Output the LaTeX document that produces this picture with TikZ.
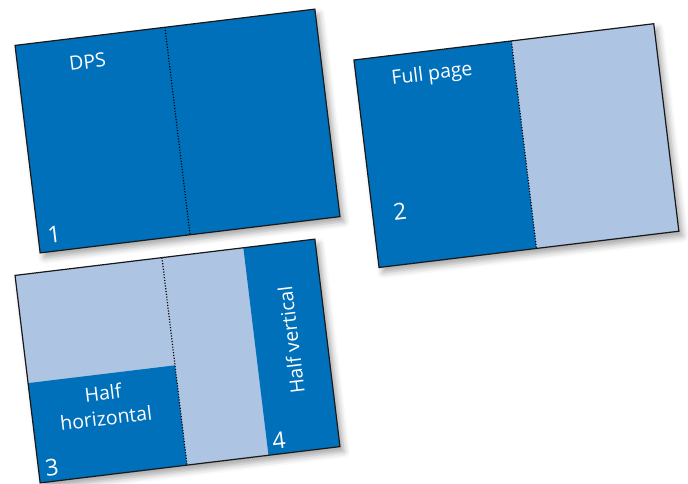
\documentclass[tikz,border=0pt]{standalone}
\usepackage{fontspec}
\setmainfont{Open Sans}
\usetikzlibrary{shadows.blur}
\definecolor{dkblue}{RGB}{0,112,186}
\definecolor{ltblue}{RGB}{174,196,227}
\tikzset{
 pageshadow/.style={blur shadow={shadow xshift=4pt, shadow yshift=-5pt, shadow blur radius=6pt, shadow opacity=35}},
 border/.style={draw=black!90, line width=1.2pt},
 fold/.style={draw=black, line width=1.2pt, dash pattern=on 1.1pt off 1.7pt},
 lbl/.style={text=white, font=\fontsize{19.5}{25}\selectfont, align=center, inner sep=0pt},
 num/.style={text=white, font=\fontsize{23}{25}\selectfont, inner sep=0pt},
}
\begin{document}
\begin{tikzpicture}[x=1pt,y=1pt]
\useasboundingbox (0,0) rectangle (688,-483);
% page 1: DPS
\begin{scope}[shift={(177.5,-131)}, rotate=6.9, transform shape]
 \path[pageshadow, fill=dkblue] (-151,-104.5) rectangle (151,104.5);
 \coordinate (f1t) at (0,104.5);
 \coordinate (f1b) at (0,-104.5);
 \draw[fold] (f1t) -- (f1b);
 \draw[border] (-151,-104.5) rectangle (151,104.5);
 \node[lbl] (dps) at (-81,79.5) {DPS};
 \node[num] (n1) at (-135,-88) {1};
\end{scope}
% page 2: Full page
\begin{scope}[shift={(516.4,-145.6)}, rotate=6.9, transform shape]
 \path[pageshadow, fill=ltblue] (-151,-104.5) rectangle (151,104.5);
 \fill[dkblue] (-151,-104.5) rectangle (7.6,104.5);
 \coordinate (f2t) at (7.6,104.5);
 \coordinate (f2b) at (7.6,-104.5);
 \draw[fold] (f2t) -- (f2b);
 \draw[border] (-151,-104.5) rectangle (151,104.5);
 \node[lbl] (full) at (-75.2,80.4) {Full page};
 \node[num] (n2) at (-123.6,-51.7) {2};
\end{scope}
% page 3: Half horizontal / Half vertical
\begin{scope}[shift={(177.5,-361)}, rotate=6.9, transform shape]
 \path[pageshadow, fill=ltblue] (-151,-104.5) rectangle (151,104.5);
 \fill[dkblue] (-151,-104.5) rectangle (-3,-4);
 \fill[dkblue] (79,-104.5) rectangle (151,104.5);
 \coordinate (f3t) at (-3,104.5);
 \coordinate (f3b) at (-3,-104.5);
 \draw[fold] (f3t) -- (f3b);
 \draw[border] (-151,-104.5) rectangle (151,104.5);
 \node[lbl] (hh) at (-77.8,-35.3) {Half\\horizontal};
 \node[num] (n3) at (-137.6,-90.9) {3};
 \node[num] (n4) at (91.1,-90.8) {4};
 \node[lbl, rotate=90] (hv) at (115.3,7) {Half vertical};
\end{scope}
\end{tikzpicture}
\end{document}
